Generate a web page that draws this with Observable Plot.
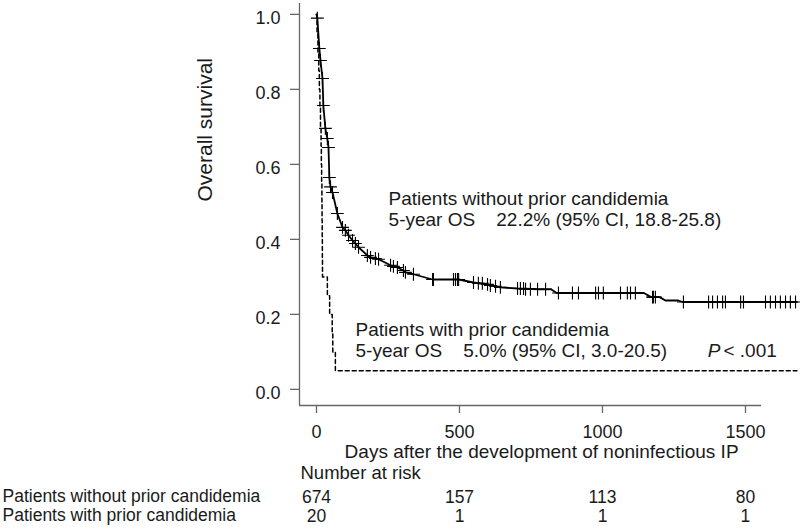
<!DOCTYPE html>
<html><head><meta charset="utf-8">
<script src="https://cdn.jsdelivr.net/npm/d3@7"></script>
<script src="https://cdn.jsdelivr.net/npm/@observablehq/plot@0.6"></script>
<style>body{margin:0;background:#fff}</style>
</head><body><div id="chart"></div>
<script>
// Kaplan-Meier: patients without prior candidemia (solid)
const solidTime = [0, 3, 10, 14, 21, 24, 31, 38, 42, 45, 49, 56, 73, 91, 101, 112, 126, 136, 147, 178, 189, 206, 217, 259, 283, 304, 311, 339, 406, 497, 549, 566, 598, 608, 626, 643, 703, 780, 820, 840, 1145, 1170, 1200, 1220, 1265, 1280, 1680];
const solidSurv = [1.0, 0.99, 0.909, 0.877, 0.829, 0.757, 0.696, 0.669, 0.645, 0.565, 0.54, 0.525, 0.469, 0.432, 0.424, 0.411, 0.397, 0.389, 0.379, 0.357, 0.352, 0.349, 0.347, 0.331, 0.325, 0.317, 0.312, 0.307, 0.293, 0.293, 0.285, 0.283, 0.280, 0.277, 0.275, 0.272, 0.269, 0.267, 0.267, 0.257, 0.257, 0.246, 0.246, 0.237, 0.237, 0.233, 0.233];
// censor marks on solid curve
const censorTime = [3, 10, 14, 21, 24, 31, 38, 42, 45, 49, 56, 73, 91, 101, 112, 126, 136, 147, 178, 189, 206, 217, 259, 269, 283, 304, 311, 339, 406, 409, 479, 486, 493, 497, 549, 566, 580, 598, 608, 626, 643, 703, 713, 724, 731, 748, 773, 801, 846, 895, 916, 976, 986, 1003, 1063, 1087, 1098, 1115, 1175, 1178, 1185, 1283, 1371, 1385, 1402, 1420, 1430, 1483, 1493, 1570, 1587, 1605, 1622, 1640, 1657, 1675];
const censorSurv = [0.99, 0.909, 0.877, 0.829, 0.757, 0.696, 0.669, 0.645, 0.565, 0.54, 0.525, 0.469, 0.432, 0.424, 0.411, 0.397, 0.389, 0.379, 0.357, 0.352, 0.349, 0.347, 0.331, 0.328, 0.325, 0.317, 0.312, 0.307, 0.293, 0.293, 0.293, 0.293, 0.293, 0.293, 0.285, 0.283, 0.283, 0.280, 0.277, 0.275, 0.272, 0.269, 0.269, 0.269, 0.267, 0.267, 0.267, 0.267, 0.257, 0.257, 0.257, 0.257, 0.257, 0.257, 0.257, 0.257, 0.257, 0.257, 0.246, 0.246, 0.246, 0.233, 0.233, 0.233, 0.233, 0.233, 0.233, 0.233, 0.233, 0.233, 0.233, 0.233, 0.233, 0.233, 0.233, 0.233];
// patients with prior candidemia (dashed)
const dashTime = [0, 2, 5, 8, 10, 12, 14, 16, 17, 18, 19, 19.5, 20, 20.5, 21, 38, 46, 55, 57, 66, 1680];
const dashSurv = [1.0, 0.95, 0.90, 0.85, 0.80, 0.75, 0.70, 0.65, 0.60, 0.55, 0.50, 0.45, 0.40, 0.35, 0.30, 0.25, 0.20, 0.15, 0.10, 0.05, 0.05];

const xTicks = [0, 500, 1000, 1500];
const yTicks = [0, 0.2, 0.4, 0.6, 0.8, 1.0];
const riskLabels = ["Patients without prior candidemia", "Patients with prior candidemia"];
const riskWithout = [674, 157, 113, 80];
const riskWith = [20, 1, 1, 1];
const annot1 = ["Patients without prior candidemia", "5-year OS\u00a0\u00a0\u00a0\u00a022.2% (95% CI, 18.8-25.8)"];
const annot2 = ["Patients with prior candidemia", "5-year OS\u00a0\u00a0\u00a0\u00a05.0% (95% CI, 3.0-20.5)"];

const solid = solidTime.map((t, i) => ({t, s: solidSurv[i]}));
const censor = censorTime.map((t, i) => ({t, s: censorSurv[i]}));
const dashed = dashTime.map((t, i) => ({t, s: dashSurv[i]}));
const risk0 = xTicks.map((t, i) => ({t, n: riskWithout[i]}));
const risk1 = xTicks.map((t, i) => ({t, n: riskWith[i]}));

const xMin = -59.4, xMax = 1556, yMin = -0.043, yMax = 1.029;
const W = 800, H = 532, mL = 299, mR = 39, mT = 3, mB = 127;
const pxX = (W - mL - mR) / (xMax - xMin);
const pxY = (H - mT - mB) / (yMax - yMin);
const font = "Liberation Sans, Arial, Helvetica, sans-serif";
const ink = "#1a1a1a", axisC = "#666";
const rowDy = [96, 115];
const rowFont = 17.5;

const chart = Plot.plot({
  width: W, height: H, marginLeft: mL, marginRight: mR, marginTop: mT, marginBottom: mB,
  x: {domain: [xMin, xMax], axis: null},
  y: {domain: [yMin, yMax], axis: null},
  style: {fontFamily: font, fontSize: "18px", background: "#fff", color: ink},
  marks: [
    Plot.ruleX([xMin], {stroke: axisC, strokeWidth: 1.3}),
    Plot.ruleY([yMin], {stroke: axisC, strokeWidth: 1.3}),
    Plot.ruleY(yTicks, {y: d => d, x1: xMin - 9 / pxX, x2: xMin, stroke: axisC, strokeWidth: 1.3}),
    Plot.text(yTicks, {x: xMin, y: d => d, text: d => d.toFixed(1), textAnchor: "end", dx: -19, dy: 4, fontSize: 18, fill: ink}),
    Plot.ruleX(xTicks, {x: d => d, y1: yMin, y2: yMin - 8 / pxY, stroke: axisC, strokeWidth: 1.3}),
    Plot.text(xTicks, {x: d => d, frameAnchor: "bottom", dy: 32, text: d => String(d), fontSize: 18, fill: ink}),
    Plot.text(["Overall survival"], {frameAnchor: "left", dx: -94, dy: -3, rotate: -90, fontSize: 21, fill: ink}),
    Plot.text(["Days after the development of noninfectious IP"], {x: [787], frameAnchor: "bottom", dy: 52, fontSize: 19, fill: ink}),
    Plot.text(["Number at risk"], {frameAnchor: "bottom-left", dx: 1, dy: 73, textAnchor: "start", fontSize: 18.5, fill: ink}),
    Plot.text([riskLabels[0]], {frameAnchor: "bottom-left", dx: 2 - mL, dy: rowDy[0], textAnchor: "start", fontSize: rowFont, fill: ink}),
    Plot.text([riskLabels[1]], {frameAnchor: "bottom-left", dx: 2 - mL, dy: rowDy[1], textAnchor: "start", fontSize: rowFont, fill: ink}),
    Plot.text(risk0, {x: "t", frameAnchor: "bottom", dy: rowDy[0] + 1, text: "n", fontSize: rowFont, fill: ink}),
    Plot.text(risk1, {x: "t", frameAnchor: "bottom", dy: rowDy[1] + 1, text: "n", fontSize: rowFont, fill: ink}),
    Plot.line(dashed, {x: "t", y: "s", curve: "step-after", stroke: "#000", strokeWidth: 1.5, strokeDasharray: "4,3"}),
    Plot.line(solid, {x: "t", y: "s", stroke: "#000", strokeWidth: 1.8}),
    Plot.dot(censor, {x: "t", y: "s", symbol: "plus", r: 4.2, stroke: "#000", strokeWidth: 1.1}),
    Plot.text(annot1, {x: 252, y: [0.5066, 0.4506], textAnchor: "start", fontSize: 19, fill: ink}),
    Plot.text(annot2, {x: 136.5, y: [0.1599, 0.1013], textAnchor: "start", fontSize: 19, fill: ink}),
    Plot.text(["P"], {x: 1367.7, y: 0.1013, textAnchor: "start", fontSize: 19, fontStyle: "italic", fill: ink}),
    Plot.text(["< .001"], {x: 1423, y: 0.1013, textAnchor: "start", fontSize: 19, fill: ink})
  ]
});
document.getElementById("chart").appendChild(chart);
</script>
</body></html>
